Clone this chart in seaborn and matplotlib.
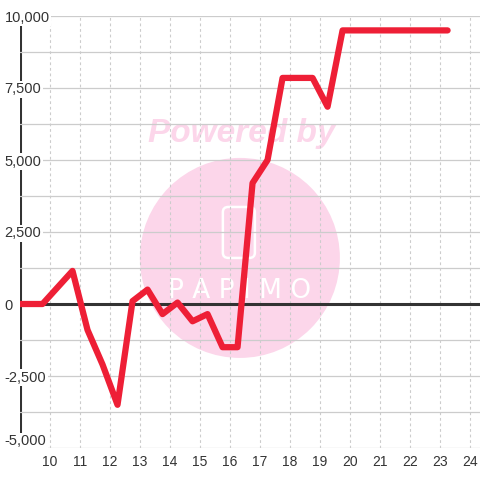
import matplotlib
matplotlib.use("Agg")
import matplotlib.pyplot as plt
from matplotlib.patches import Ellipse, FancyBboxPatch
import seaborn as sns

# --- DATA ---
X_VALUES = [9.0, 9.75, 10.75, 11.25, 11.75, 12.25, 12.75, 13.25, 13.75, 14.25,
            14.75, 15.25, 15.75, 16.25, 16.75, 17.25, 17.75, 18.75, 19.25, 19.75, 23.25]
Y_VALUES = [0, 0, 1150, -900, -2100, -3500, 100, 500, -350, 50,
            -600, -350, -1500, -1500, 4200, 5000, 7850, 7850, 6850, 9500, 9500]
X_TICKS = list(range(10, 25))
Y_TICKS = [-5000, -2500, 0, 2500, 5000, 7500, 10000]
Y_MINOR = [-3750, -1250, 1250, 3750, 6250, 8750]

LINE_COLOR = '#ee1f36'
DARK = '#333333'
GRID = '#cccccc'
PINK = '#fcd6ea'


def make_chart():
    sns.set_style("white")
    plt.rcParams['font.family'] = ['Liberation Sans', 'DejaVu Sans']

    fig = plt.figure(figsize=(4.8, 4.8), dpi=100)
    ax = fig.add_axes([20 / 480, 1 - 448 / 480, 460 / 480, 432 / 480])
    ax.set_axisbelow(True)

    # watermark
    ax.add_patch(Ellipse((0.478, 0.44), 0.4348, 0.463, transform=ax.transAxes,
                         facecolor=PINK, edgecolor='none', zorder=0.1))
    ax.text(0.483, 0.729, 'Powered by', transform=ax.transAxes, ha='center', va='center',
            fontsize=24, fontweight='bold', fontstyle='italic', color=PINK, zorder=0.2)
    ax.add_patch(FancyBboxPatch((0.441, 0.44), 0.0696, 0.118, transform=ax.transAxes,
                                boxstyle='round,pad=0,rounding_size=0.012',
                                facecolor='none', edgecolor='white', lw=1.8, zorder=0.2))
    ax.text(0.478, 0.363, 'P A P I M O', transform=ax.transAxes, ha='center', va='center',
            fontsize=19, family=['DejaVu Sans'], color='white', zorder=0.2)

    # axis lines
    ax.axvline(X_VALUES[0], color=DARK, lw=2.2, zorder=0.3)
    ax.axhline(0, color=DARK, lw=2.2, zorder=2)

    sns.lineplot(x=X_VALUES, y=Y_VALUES, ax=ax, color=LINE_COLOR, lw=4.5,
                 sort=False, zorder=3)

    ax.set_xlim(9.0, 24.33)
    ax.set_ylim(-5000, 10000)

    ax.set_xticks(X_TICKS)
    ax.set_xticklabels([str(t) for t in X_TICKS], fontsize=10, color=DARK)
    ax.set_yticks(Y_TICKS)
    ax.set_yticks(Y_MINOR, minor=True)
    ylabels = ax.set_yticklabels([f"{t:,}" for t in Y_TICKS], fontsize=10.5, color=DARK,
                                 ha='left',
                                 bbox=dict(facecolor='white', edgecolor='none', pad=1))
    # bottom label sits above its gridline
    ylabels[0].set_verticalalignment('bottom')

    ax.tick_params(axis='y', which='both', length=0, pad=11)
    ax.tick_params(axis='x', which='both', length=0, pad=5)

    ax.grid(axis='y', which='both', color=GRID, lw=0.9, ls='-')
    ax.grid(axis='x', which='major', color=GRID, lw=0.8, ls=(0, (2.5, 2.5)))

    for s in ax.spines.values():
        s.set_visible(False)
    ax.set_xlabel('')
    ax.set_ylabel('')

    fig.savefig('out.png', dpi=100)


if __name__ == "__main__":
    make_chart()
